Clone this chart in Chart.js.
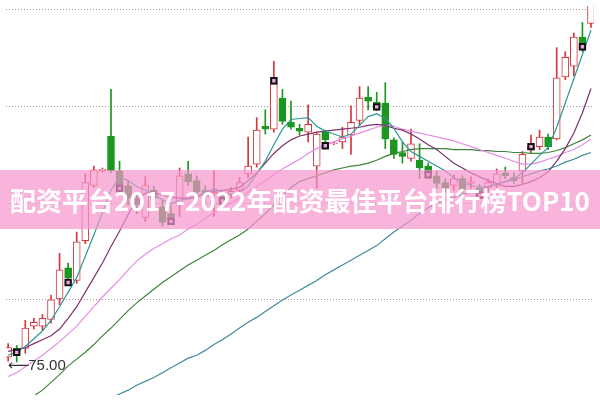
<!DOCTYPE html>
<html>
<head>
<meta charset="utf-8">
<script src="https://cdn.jsdelivr.net/npm/chart.js@4"></script>
<style>
  html, body { margin: 0; padding: 0; background: #fff; }
  canvas { display: block; }
</style>
</head>
<body>
<canvas id="kChart" width="600" height="401"></canvas>
<script>
// daily candles, one entry per trading day
const opens = [75.5, 76.4, 76.4, 78.7, 78.7, 79.4, 81.5, 84.7, 83.4, 87.5,
  93.2, 94.7, 98.3, 94.7, 93.2, 91.9, 89.9, 92.7, 91.0, 90.3,
  91.2, 94.4, 93.7, 92.7, 92.3, 92.1, 92.2, 92.7, 94.4, 95.4,
  99.3, 99.0, 102.2, 99.7, 99.1, 98.7, 95.2, 98.7, 97.5, 97.7,
  98.4, 99.9, 102.3, 101.8, 101.7, 97.9, 96.6, 96.0, 95.8, 95.2,
  94.2, 93.5, 93.2, 93.9, 93.4, 92.9, 93.0, 93.2, 94.5, 94.0,
  94.7, 96.9, 97.2, 98.2, 98.0, 104.4, 105.5, 108.5, 109.9];
const closes = [76.5, 76.0, 78.5, 79.1, 79.5, 81.4, 84.5, 83.7, 87.4, 93.5,
  94.8, 94.9, 94.7, 93.2, 91.9, 91.2, 93.2, 91.9, 89.4, 89.7,
  94.2, 93.6, 92.5, 92.1, 92.5, 91.7, 92.6, 93.5, 95.2, 98.9,
  99.0, 103.7, 99.8, 99.2, 98.8, 99.5, 98.5, 97.9, 97.6, 98.2,
  99.7, 102.2, 101.9, 101.4, 98.0, 96.4, 96.2, 97.5, 95.0, 94.5,
  93.4, 92.9, 93.9, 92.8, 93.6, 92.5, 93.5, 94.4, 94.2, 93.7,
  96.4, 97.2, 98.2, 97.2, 104.3, 106.4, 108.5, 107.9, 111.9];
const highs = [76.9, 76.7, 79.3, 79.5, 79.9, 81.9, 86.2, 85.2, 88.4, 94.4,
  95.2, 95.0, 103.1, 95.7, 93.7, 92.5, 94.1, 93.1, 91.7, 91.1,
  95.0, 95.7, 94.2, 93.2, 94.7, 92.5, 93.0, 94.0, 98.2, 100.2,
  101.0, 106.0, 103.1, 101.9, 99.5, 101.5, 98.7, 98.9, 97.7, 99.2,
  101.4, 103.4, 103.4, 102.8, 103.8, 98.1, 97.7, 99.0, 97.5, 95.5,
  94.7, 93.9, 94.3, 94.2, 94.1, 93.3, 93.9, 94.9, 95.1, 94.5,
  96.7, 98.4, 98.9, 98.5, 107.4, 107.0, 108.9, 110.0, 112.5];
const lows = [75.1, 75.0, 75.9, 78.4, 78.3, 79.0, 80.9, 83.4, 83.1, 87.2,
  93.0, 94.6, 94.5, 92.7, 91.2, 90.3, 89.5, 91.4, 89.0, 89.3,
  90.0, 93.2, 91.9, 91.2, 90.0, 91.1, 91.9, 92.2, 94.0, 95.1,
  98.5, 98.7, 99.5, 99.0, 98.4, 97.7, 92.9, 97.6, 97.4, 97.0,
  96.4, 99.4, 101.0, 100.9, 97.0, 96.0, 95.5, 95.7, 93.9, 94.0,
  92.9, 92.5, 92.7, 92.2, 92.9, 91.9, 92.5, 92.9, 93.9, 93.4,
  93.4, 96.5, 96.9, 96.9, 97.9, 104.1, 104.5, 107.0, 109.5];

// moving average lines
const ma5 = [75.7, 76.0, 76.6, 77.4, 78.2, 79.3, 80.7, 82.2, 83.7, 85.9,
  88.1, 90.4, 92.7, 94.1, 93.7, 93.1, 92.7, 92.3, 91.7, 91.3,
  91.7, 91.8, 92.0, 92.4, 92.9, 92.5, 92.3, 92.5, 93.1, 94.4,
  95.7, 97.4, 99.0, 100.0, 100.1, 100.2, 99.3, 98.8, 98.5, 98.2,
  98.5, 99.4, 100.3, 100.6, 100.1, 99.1, 97.7, 96.7, 96.2, 95.7,
  95.2, 94.7, 94.0, 93.5, 93.2, 93.0, 93.1, 93.3, 93.6, 93.9,
  94.5, 95.4, 96.3, 97.1, 99.2, 101.7, 104.2, 106.7, 109.2];
const ma10 = [76.1, 76.3, 76.5, 76.9, 77.3, 77.7, 78.4, 79.5, 80.7, 82.2,
  83.7, 85.2, 86.9, 88.5, 90.2, 91.7, 92.4, 92.4, 92.2, 92.0,
  91.9, 91.9, 92.1, 92.4, 92.6, 92.7, 92.8, 93.0, 93.7, 94.5,
  95.5, 96.5, 97.3, 97.9, 98.3, 98.5, 98.7, 98.8, 98.9, 99.0,
  99.1, 99.2, 99.4, 99.5, 99.4, 99.1, 98.9, 98.5, 98.0, 97.4,
  96.9, 96.2, 95.5, 95.0, 94.5, 94.1, 93.7, 93.4, 93.1, 93.1,
  93.3, 93.6, 94.0, 94.6, 95.7, 97.0, 98.6, 100.7, 103.2];
const ma20 = [73.5, 73.9, 74.5, 75.1, 75.7, 76.4, 77.1, 77.9, 78.7, 79.7,
  80.7, 81.7, 82.6, 83.5, 84.5, 85.4, 86.1, 86.7, 87.2, 87.7,
  88.1, 88.7, 89.2, 89.8, 90.4, 90.9, 91.4, 91.9, 92.5, 93.1,
  93.7, 94.3, 94.9, 95.4, 95.9, 96.5, 97.0, 97.4, 97.7, 98.0,
  98.3, 98.6, 98.9, 99.2, 99.4, 99.3, 99.0, 98.8, 98.6, 98.4,
  98.2, 98.0, 97.8, 97.5, 97.2, 96.9, 96.6, 96.3, 96.0, 95.7,
  95.4, 95.4, 95.6, 95.9, 96.2, 96.6, 96.9, 97.4, 98.0];
const ma60 = [null, null, null, 71.5, 72.1, 72.9, 73.7, 74.6, 75.3, 76.0,
  76.8, 77.7, 78.5, 79.4, 80.3, 81.1, 81.8, 82.5, 83.2, 83.8,
  84.4, 85.0, 85.5, 86.0, 86.5, 87.1, 87.6, 88.1, 88.7, 89.5,
  90.3, 91.2, 92.1, 93.0, 93.6, 93.9, 94.2, 94.5, 94.8, 95.0,
  95.2, 95.3, 95.5, 95.8, 96.2, 96.5, 96.7, 96.9, 97.0, 97.0,
  97.0, 97.0, 96.9, 96.9, 96.9, 96.8, 96.8, 96.7, 96.7, 96.6,
  96.6, 96.5, 96.5, 96.6, 96.8, 97.1, 97.5, 97.9, 98.4];
const ma120 = [null, null, null, null, null, null, null, null, null, null,
  null, null, 71.3, 71.7, 72.1, 72.6, 73.0, 73.4, 73.9, 74.4,
  74.9, 75.4, 75.7, 76.2, 76.8, 77.3, 77.9, 78.5, 79.1, 79.6,
  80.2, 80.8, 81.4, 81.9, 82.4, 82.9, 83.4, 84.0, 84.5, 85.0,
  85.5, 86.0, 86.5, 87.0, 87.7, 88.4, 89.0, 89.6, 90.3, 90.9,
  91.4, 91.7, 92.0, 92.3, 92.5, 92.8, 93.1, 93.3, 93.6, 93.8,
  94.1, 94.4, 94.7, 94.9, 95.2, 95.6, 95.9, 96.3, 96.6];

// small flag icons on every sixth day
const markDays = [1, 7, 13, 19, 25, 31, 37, 43, 49, 55, 61, 67];
const markPrices = [76.0, 83.2, 92.9, 89.5, 91.6, 104.0, 97.3, 101.3, 94.3, 92.2, 97.2, 107.5];

const gridPrices = [81.5, 91.4, 101.4, 111.4];
const bannerText = '配资平台2017-2022年配资最佳平台排行榜TOP10';

const UP = '#d4363c';
const DOWN = '#1b961f';

const isUp = opens.map((o, i) => closes[i] >= o);
const xy = arr => arr.map((v, i) => ({ x: i, y: v }));

function maLine(data, color) {
  return {
    type: 'line',
    data: xy(data),
    borderColor: color,
    borderWidth: 1.2,
    pointRadius: 0,
    tension: 0,
    spanGaps: false,
    order: 1
  };
}

const gridAndBanner = {
  id: 'gridAndBanner',
  beforeDatasetsDraw(chart) {
    const { ctx, chartArea, scales } = chart;
    ctx.save();
    ctx.strokeStyle = '#9a9a9a';
    ctx.lineWidth = 1;
    ctx.setLineDash([1, 2]);
    gridPrices.forEach(p => {
      const y = Math.round(scales.y.getPixelForValue(p)) + 0.5;
      ctx.beginPath();
      ctx.moveTo(chartArea.left, y);
      ctx.lineTo(chartArea.right, y);
      ctx.stroke();
    });
    ctx.restore();
  },
  afterDatasetsDraw(chart) {
    const { ctx, scales } = chart;
    ctx.save();

    // lowest price label with arrow
    let lowIdx = 0;
    lows.forEach((l, i) => { if (l < lows[lowIdx]) lowIdx = i; });
    const lx = scales.x.getPixelForValue(lowIdx) - 9;
    const ly = scales.y.getPixelForValue(lows[lowIdx]) + 4;
    ctx.fillStyle = '#333';
    ctx.textBaseline = 'middle';
    ctx.textAlign = 'left';
    ctx.font = '15px "DejaVu Sans", sans-serif';
    ctx.fillText('⟵', lx, ly);
    const aw = ctx.measureText('⟵').width;
    ctx.font = '15px "Liberation Sans", Arial, sans-serif';
    ctx.fillText(lows[lowIdx].toFixed(2), lx + aw - 1, ly);

    // pink title band
    ctx.fillStyle = 'rgba(246, 148, 205, 0.7)';
    ctx.fillRect(0, 170, 600, 59);
    ctx.fillStyle = '#ffffff';
    ctx.font = 'bold 26px "Noto Sans CJK SC", sans-serif';
    ctx.textAlign = 'center';
    ctx.fillText(bannerText, 300, 201);
    ctx.restore();
  }
};

new Chart(document.getElementById('kChart'), {
  type: 'bar',
  data: {
    datasets: [
      {
        type: 'line',
        data: markDays.map((d, i) => ({ x: d, y: markPrices[i] })),
        showLine: false,
        pointStyle: 'rect',
        pointRadius: 3.8,
        pointBackgroundColor: '#e9a7e2',
        pointBorderColor: '#111',
        pointBorderWidth: 2,
        order: 0
      },
      maLine(ma5, '#2a9a98'),
      maLine(ma10, '#7e2f6c'),
      maLine(ma20, '#e68ce4'),
      maLine(ma60, '#3f833c'),
      maLine(ma120, '#3f8c9a'),
      {
        // candle bodies
        data: opens.map((o, i) => ({ x: i, y: [o, closes[i]] })),
        backgroundColor: isUp.map(u => u ? '#ffffff' : DOWN),
        borderColor: isUp.map(u => u ? UP : DOWN),
        borderWidth: 1,
        borderSkipped: false,
        barThickness: 7,
        grouped: false,
        order: 2
      },
      {
        // wicks
        data: lows.map((l, i) => ({ x: i, y: [l, highs[i]] })),
        backgroundColor: isUp.map(u => u ? UP : DOWN),
        borderWidth: 0,
        barThickness: 1,
        grouped: false,
        order: 3
      }
    ]
  },
  options: {
    responsive: false,
    animation: false,
    layout: { padding: 0 },
    plugins: { legend: { display: false }, tooltip: { enabled: false } },
    scales: {
      x: { type: 'linear', min: -0.25, max: 68.35, offset: false, display: false },
      y: { min: 71.6, max: 111.7, display: false }
    }
  },
  plugins: [gridAndBanner]
});
</script>
</body>
</html>
